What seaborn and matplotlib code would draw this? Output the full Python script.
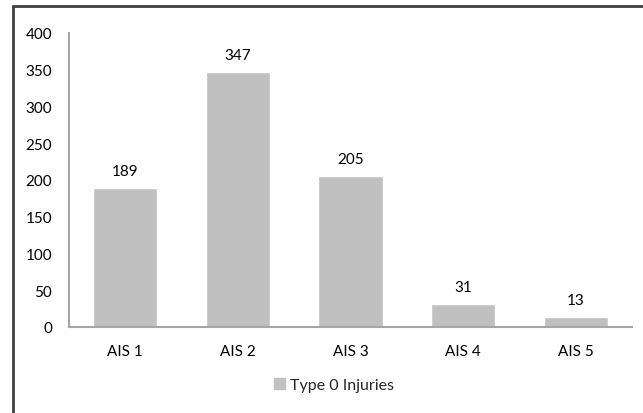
import matplotlib
matplotlib.use("Agg")
import matplotlib.pyplot as plt
import matplotlib.patches as mpatches
import seaborn as sns
import pandas as pd

categories = ['AIS 1', 'AIS 2', 'AIS 3', 'AIS 4', 'AIS 5']
injuries = [189, 347, 205, 31, 13]
series_name = 'Type 0 Injuries'

df = pd.DataFrame({'AIS': categories, 'Injuries': injuries})

sns.set_style('white')
plt.rcParams['font.family'] = ['Lato', 'DejaVu Sans']

fig = plt.figure(figsize=(6.43, 4.14), dpi=100)
ax = fig.add_axes([69 / 643, 1 - 328 / 414, (632 - 69) / 643, (328 - 34) / 414])

bar_color = '#c0c0c0'
fs = 11
sns.barplot(data=df, x='AIS', y='Injuries', color=bar_color, width=0.57,
            saturation=1, ax=ax)

# value labels above the bars
for i, v in enumerate(injuries):
    ax.text(i, v + 14, str(v), ha='center', va='bottom', fontsize=fs, color='black')

ax.set_xlim(-0.5, 4.5)
ax.set_ylim(0, 400)
ax.set_yticks(range(0, 401, 50))
ax.set_xlabel('')
ax.set_ylabel('')
ax.tick_params(axis='both', length=0, labelsize=fs, colors='black')
ax.tick_params(axis='y', pad=12)
ax.tick_params(axis='x', pad=12)
sns.despine(ax=ax)
for s in ['left', 'bottom']:
    ax.spines[s].set_color('#a6a6a6')
    ax.spines[s].set_linewidth(1.5)

handle = mpatches.Patch(color=bar_color, label=series_name)
fig.legend(handles=[handle], loc='center', bbox_to_anchor=(334 / 643, 1 - 386 / 414),
           frameon=False, fontsize=11.5, handlelength=0.7, handleheight=0.7,
           handletextpad=0.3)

# chart area border (only top and left edges fall inside the image)
border = mpatches.Rectangle((12.5 / 643, -0.1), 1.2, 1 - 6.5 / 414 + 0.1,
                            transform=fig.transFigure, fill=False,
                            edgecolor='#404040', linewidth=2, clip_on=False)
fig.patches.append(border)

fig.savefig('out.png', dpi=100)
